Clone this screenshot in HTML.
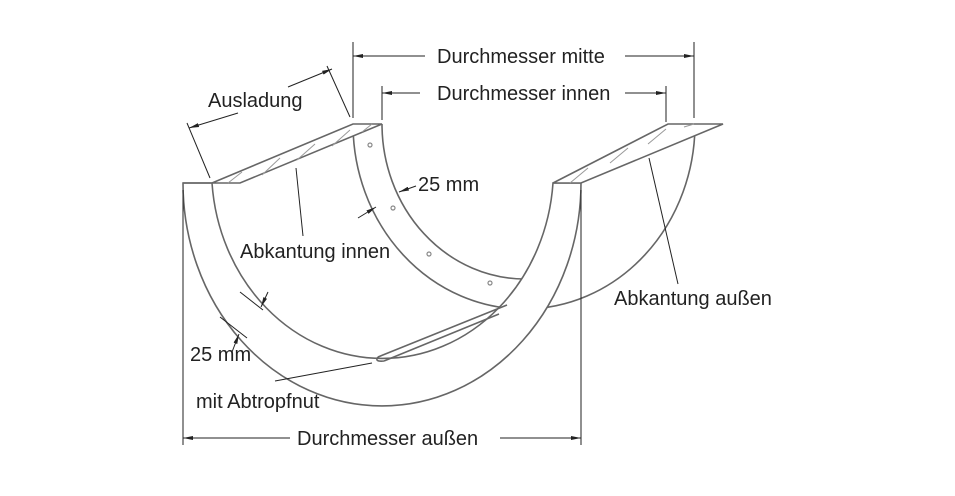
<!DOCTYPE html>
<html><head><meta charset="utf-8"><style>
html,body{margin:0;padding:0;background:#fff}
svg{display:block}
text{font-family:"Liberation Sans",sans-serif;font-size:20px;fill:#222}
</style></head><body>
<svg width="955" height="496" viewBox="0 0 955 496" xmlns="http://www.w3.org/2000/svg">
<defs>
<marker id="ar" markerWidth="10" markerHeight="6" refX="10" refY="3" orient="auto" markerUnits="userSpaceOnUse">
<path d="M0,1 L10,3 L0,5 z" fill="#222"/>
</marker>
</defs>
<g fill="none" stroke="#666" stroke-width="1.6">
<!-- back ring -->
<path d="M353,124 A171,185 0 0 0 695,124"/>
<path d="M382,124 A143,155 0 0 0 525,279"/>
<line x1="668" y1="124" x2="668" y2="132"/>
<!-- front ring annulus -->
<path d="M183,183 A199,223 0 0 0 581,183 L553,183 A171,190 0 0 1 212,183 Z" fill="#fff"/>
<!-- flanges -->
<path d="M183,183 L240,183 L382,124 L353,124 L212,183" fill="#fff"/>
<path d="M553,183 L668,124 L723,124 L581,183 Z" fill="#fff"/>
<!-- drip groove -->
<path d="M378,357 L507,305 M384,361 L499,314 M378,357 Q374,362 384,361"/>
</g>
<!-- hatches -->
<g stroke="#999" stroke-width="1">
<line x1="228" y1="183" x2="242" y2="172"/>
<line x1="262" y1="175" x2="280" y2="158"/>
<line x1="297" y1="160" x2="315" y2="144"/>
<line x1="332" y1="146" x2="350" y2="130"/>
<line x1="362" y1="132" x2="372" y2="124"/>
<line x1="570" y1="183" x2="588" y2="168"/>
<line x1="610" y1="163" x2="628" y2="148"/>
<line x1="648" y1="144" x2="666" y2="129"/>
<line x1="684" y1="127" x2="694" y2="124"/>
</g>
<!-- dots -->
<g fill="none" stroke="#888" stroke-width="1.2">
<circle cx="370" cy="145" r="2"/><circle cx="393" cy="208" r="2"/>
<circle cx="429" cy="254" r="2"/><circle cx="490" cy="283" r="2"/>
</g>
<!-- dimensions -->
<g stroke="#222" stroke-width="1" fill="none">
<line x1="353" y1="42" x2="353" y2="118"/><line x1="694" y1="42" x2="694" y2="118"/>
<line x1="425" y1="56" x2="353" y2="56" marker-end="url(#ar)"/>
<line x1="625" y1="56" x2="694" y2="56" marker-end="url(#ar)"/>
<line x1="382" y1="86" x2="382" y2="120"/><line x1="666" y1="86" x2="666" y2="122"/>
<line x1="420" y1="93" x2="382" y2="93" marker-end="url(#ar)"/>
<line x1="625" y1="93" x2="666" y2="93" marker-end="url(#ar)"/>
<line x1="183" y1="190" x2="183" y2="445"/><line x1="581" y1="190" x2="581" y2="445"/>
<line x1="290" y1="438" x2="183" y2="438" marker-end="url(#ar)"/>
<line x1="500" y1="438" x2="581" y2="438" marker-end="url(#ar)"/>
<!-- Ausladung -->
<line x1="210" y1="178" x2="187" y2="123"/><line x1="350" y1="117" x2="327" y2="66"/>
<line x1="238" y1="113" x2="189" y2="128" marker-end="url(#ar)"/>
<line x1="288" y1="87" x2="332" y2="69" marker-end="url(#ar)"/>
<!-- leaders -->
<line x1="296" y1="168" x2="303" y2="236"/>
<line x1="649" y1="158" x2="678" y2="284"/>
<line x1="275" y1="381" x2="372" y2="363"/>
<!-- 25mm top -->
<line x1="416" y1="186" x2="399" y2="192" marker-end="url(#ar)"/>
<line x1="358" y1="218" x2="376" y2="207" marker-end="url(#ar)"/>
<!-- 25mm bottom -->
<line x1="240" y1="292" x2="263" y2="310"/>
<line x1="268" y1="292" x2="261" y2="307" marker-end="url(#ar)"/>
<line x1="220" y1="317" x2="247" y2="338"/>
<line x1="232" y1="352" x2="239" y2="334" marker-end="url(#ar)"/>
</g>
<text x="437" y="63">Durchmesser mitte</text>
<text x="437" y="100">Durchmesser innen</text>
<text x="297" y="445">Durchmesser außen</text>
<text x="208" y="107">Ausladung</text>
<text x="418" y="191">25 mm</text>
<text x="240" y="258">Abkantung innen</text>
<text x="614" y="305">Abkantung außen</text>
<text x="190" y="361">25 mm</text>
<text x="196" y="408">mit Abtropfnut</text>
</svg>
</body></html>
